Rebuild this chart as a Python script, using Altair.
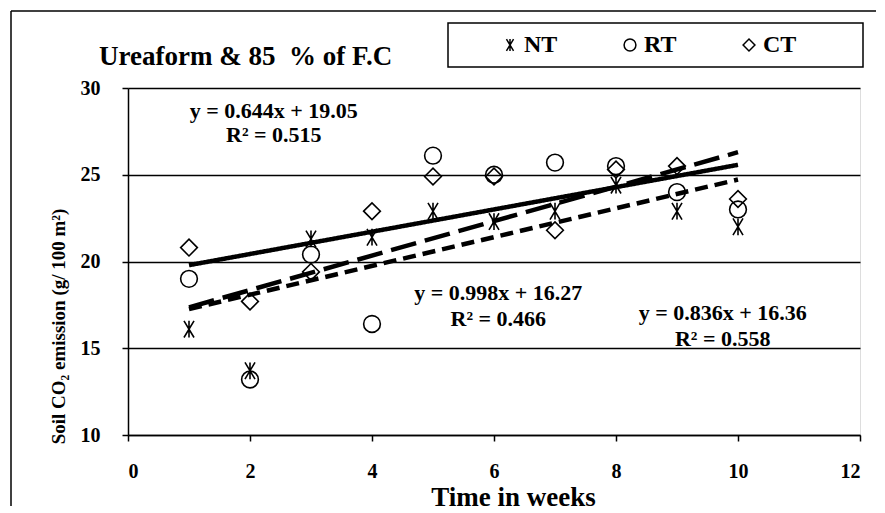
import altair as alt
import pandas as pd

# ---- data ----
weeks = [1, 2, 3, 4, 5, 6, 7, 8, 9, 10]
nt_vals = [16.1, 13.7, 21.3, 21.4, 22.9, 22.3, 22.9, 24.4, 22.9, 22.0]
rt_vals = [19.0, 13.2, 20.4, 16.4, 26.1, 25.0, 25.7, 25.5, 24.0, 23.0]
ct_vals = [20.8, 17.7, 19.4, 22.9, 24.9, 24.9, 21.8, 25.3, 25.5, 23.6]
series_names = ["NT", "RT", "CT"]

eq_text = ["y = 0.644x + 19.05", "R\u00b2 = 0.515",
           "y = 0.998x + 16.27", "R\u00b2 = 0.466",
           "y = 0.836x + 16.36", "R\u00b2 = 0.558"]
eq_x = [2.39, 2.39, 6.07, 6.07, 9.75, 9.75]
eq_y = [28.67, 27.29, 18.18, 16.69, 17.03, 15.53]

chart_title = "Ureaform & 85\u00a0 % of F.C"

rows = []
for name, vals in zip(series_names, [nt_vals, rt_vals, ct_vals]):
    for w, v in zip(weeks, vals):
        rows.append({"Week": w, "Value": v, "Series": name})
df = pd.DataFrame(rows)
eq_df = pd.DataFrame({"x": eq_x, "y": eq_y, "t": eq_text})
one = pd.DataFrame({"a": [0]})
title_df = pd.DataFrame({"t": [chart_title]})

FONT = "Liberation Serif"
asterisk = "M-0.6,-1L0.6,1M-0.6,1L0.6,-1M0,-1L0,1"

xsc = alt.Scale(domain=[0, 12], nice=False)
ysc = alt.Scale(domain=[10, 30], nice=False)

xax = alt.Axis(values=[0, 2, 4, 6, 8, 10, 12], format="d", grid=False,
               tickSize=6, tickColor="black", tickWidth=1.5,
               domainColor="black", domainWidth=1.5, labelFont=FONT,
               labelFontWeight="bold", labelFontSize=20, labelColor="black",
               labelPadding=20,
               title="Time in weeks", titleFont=FONT, titleFontWeight="bold",
               titleFontSize=27, titleColor="black", titleX=385, titleY=49,
               titleBaseline="top", titleAlign="center")
yax = alt.Axis(values=[10, 15, 20, 25, 30], format="d", grid=True,
               gridColor="black", gridWidth=1.5, tickSize=6,
               tickColor="black", tickWidth=1.5,
               domainColor="black", domainWidth=1.5, labelFont=FONT,
               labelFontWeight="bold", labelFontSize=20, labelColor="black",
               labelPadding=22,
               title="Soil CO\u2082 emission (g/ 100 m\u00b2)", titleFont=FONT,
               titleFontWeight="bold", titleFontSize=19, titleColor="black",
               titleX=-70, titleY=238, titleAngle=270,
               titleBaseline="middle", titleAlign="center")

points = alt.Chart(df).mark_point(filled=False, color="black", strokeWidth=1.6,
                                  opacity=1, size=280).encode(
    x=alt.X("Week:Q", scale=xsc, axis=xax),
    y=alt.Y("Value:Q", scale=ysc, axis=yax),
    shape=alt.Shape("Series:N",
                    scale=alt.Scale(domain=series_names,
                                    range=[asterisk, "circle", "diamond"]),
                    legend=alt.Legend(title=None, orient="none", legendX=370,
                                      legendY=-55, direction="horizontal",
                                      columns=3, columnPadding=60,
                                      labelFont=FONT, labelFontWeight="bold",
                                      labelFontSize=24, labelColor="black",
                                      labelOffset=2, symbolSize=140,
                                      symbolStrokeColor="black",
                                      symbolFillColor="transparent",
                                      symbolStrokeWidth=1.5, padding=0)),
)

# dash patterns in alphabetical order of the fit name: CT, NT, RT
trend = alt.Chart(df).transform_regression(
    "Week", "Value", groupby=["Series"], extent=[1, 10]
).transform_calculate(Fit="datum.Series").mark_line(
    color="black", strokeWidth=4.5).encode(
    x=alt.X("Week:Q", scale=xsc),
    y=alt.Y("Value:Q", scale=ysc),
    strokeDash=alt.StrokeDash("Fit:N",
                              scale=alt.Scale(range=[[1, 0], [13, 7], [26, 9]]),
                              legend=None),
)

eqs = alt.Chart(eq_df).mark_text(font=FONT, fontWeight="bold", fontSize=22,
                                 color="black", align="center",
                                 baseline="middle").encode(
    x=alt.X("x:Q", scale=xsc), y=alt.Y("y:Q", scale=ysc), text="t:N")

title_txt = alt.Chart(title_df).mark_text(font=FONT, fontWeight="bold",
                                          fontSize=27, color="black",
                                          align="left",
                                          baseline="middle").encode(
    x=alt.value(-29), y=alt.value(-31), text="t:N")

legend_box = alt.Chart(one).mark_rect(fillOpacity=0, stroke="black",
                                      strokeWidth=1.5).encode(
    x=alt.value(320), x2=alt.value(735), y=alt.value(-65), y2=alt.value(-21))

frame_left = alt.Chart(one).mark_rule(color="black", strokeWidth=1.5).encode(
    x=alt.value(-117), y=alt.value(-77), y2=alt.value(418))
frame_top = alt.Chart(one).mark_rule(color="black", strokeWidth=1.5).encode(
    x=alt.value(-117), x2=alt.value(748), y=alt.value(-77))

chart = alt.layer(frame_left, frame_top, legend_box, title_txt, trend, points,
                  eqs).properties(
    width=732, height=347,
    padding={"left": 2, "top": 2, "right": 0, "bottom": 0},
).configure_view(stroke="black", strokeWidth=1.5).configure(background="white")

chart.save("out.html", embed_options={"renderer": "svg", "actions": False})
